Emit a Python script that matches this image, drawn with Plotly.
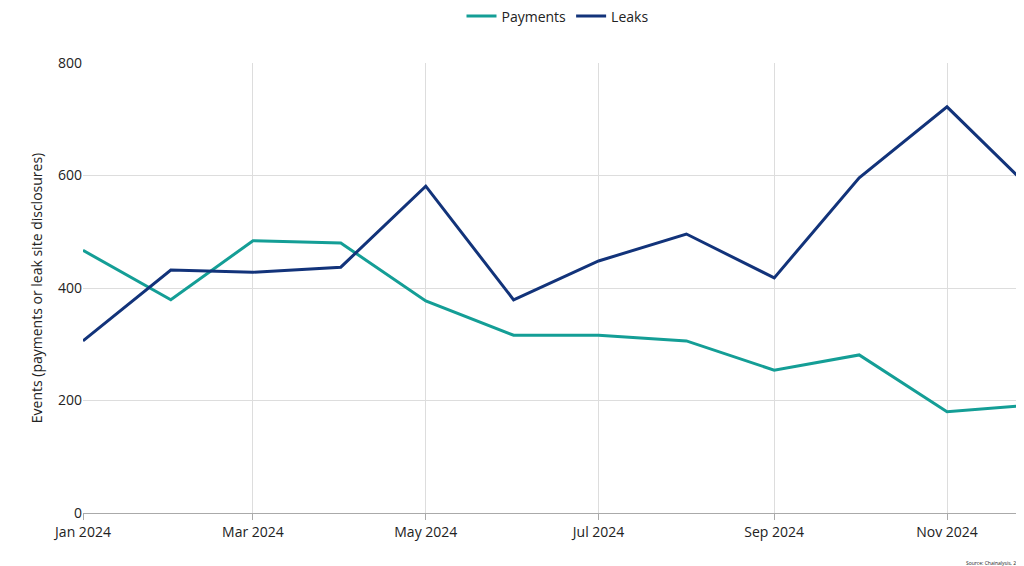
import plotly.graph_objects as go

months = ["2024-01-01","2024-02-01","2024-03-01","2024-04-01","2024-05-01","2024-06-01",
          "2024-07-01","2024-08-01","2024-09-01","2024-10-01","2024-11-01","2024-12-01"]
payments = [467, 379, 484, 480, 377, 316, 316, 306, 254, 281, 180, 192]
leaks = [306, 432, 428, 437, 581, 379, 448, 496, 418, 596, 722, 574]
tick_vals = ["2024-01-01","2024-03-01","2024-05-01","2024-07-01","2024-09-01","2024-11-01"]
tick_text = ["Jan 2024","Mar 2024","May 2024","Jul 2024","Sep 2024","Nov 2024"]

fig = go.Figure()
fig.add_trace(go.Scatter(x=months, y=payments, name="Payments", mode="lines",
                         line=dict(color="#149e96", width=3)))
fig.add_trace(go.Scatter(x=months, y=leaks, name="Leaks", mode="lines",
                         line=dict(color="#12337a", width=3)))
fig.update_layout(
    width=1024, height=566, plot_bgcolor="white", paper_bgcolor="white",
    font=dict(family="Open Sans", size=14, color="#222"),
    margin=dict(l=75, r=0, t=55, b=61, autoexpand=False),
    legend=dict(orientation="h", x=0.5, xanchor="center", y=0.985, yanchor="middle",
                yref="container", font=dict(size=14)),
    xaxis=dict(range=["2024-01-01","2024-12-01"], tickvals=tick_vals, ticktext=tick_text,
               showgrid=True, gridcolor="#dddddd", showline=True, linecolor="#aaaaaa",
               ticks="outside", ticklen=6, tickcolor="#aaaaaa", automargin=False),
    yaxis=dict(range=[0, 800], dtick=200, showgrid=True, gridcolor="#dddddd",
               zeroline=False, automargin=False,
               title=dict(text="Events (payments or leak site disclosures)",
                          font=dict(size=14), standoff=12)),
    annotations=[dict(text="Source: Chainalysis, 2025", xref="paper", yref="paper",
                      x=0.995, y=-0.1, xanchor="right", yanchor="top", showarrow=False,
                      font=dict(size=5))]
)
fig.write_html("out.html")
